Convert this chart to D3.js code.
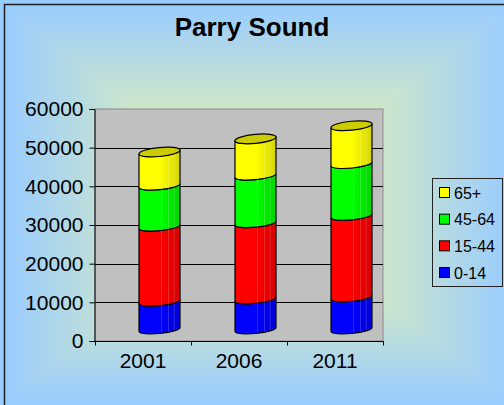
<!DOCTYPE html>
<html>
<head>
<meta charset="utf-8">
<script src="https://cdn.jsdelivr.net/npm/d3@7"></script>
<style>
  body { margin: 0; background: #99ccff; }
  svg { display: block; }
  text { font-family: "Liberation Sans", Arial, sans-serif; fill: #000; }
</style>
</head>
<body>
<div id="chart"></div>
<script>
var years = ["2001", "2006", "2011"];
var groups = ["0-14", "15-44", "45-64", "65+"];
var age0_14  = [7200, 7800, 8300];
var age15_44 = [19400, 19700, 21100];
var age45_64 = [10600, 12300, 13400];
var age65    = [8700, 9500, 9900];
var yTicks = [0, 10000, 20000, 30000, 40000, 50000, 60000];
var colors = ["#0000ff", "#ff0000", "#00ff00", "#ffff00"];

var W = 504, H = 405;
var svg = d3.select("#chart").append("svg")
  .attr("width", W)
  .attr("height", H);
var defs = svg.append("defs");

// background: rectangular "from center" gradient made of 4 triangles
var cx0 = 257, cy0 = 203;
var box = {x0: 4, y0: 4, x1: 512, y1: 403};
var inner = "#ffff99", outer = "#99ccff";
var sides = [
  {id: "bgT", pts: [[box.x0, box.y0], [box.x1, box.y0]], g: [cx0, cy0, cx0, box.y0]},
  {id: "bgB", pts: [[box.x0, box.y1], [box.x1, box.y1]], g: [cx0, cy0, cx0, box.y1]},
  {id: "bgL", pts: [[box.x0, box.y0], [box.x0, box.y1]], g: [cx0, cy0, box.x0, cy0]},
  {id: "bgR", pts: [[box.x1, box.y0], [box.x1, box.y1]], g: [cx0, cy0, box.x1, cy0]}
];
sides.forEach(function(s){
  var lg = defs.append("linearGradient").attr("id", s.id)
    .attr("gradientUnits", "userSpaceOnUse")
    .attr("x1", s.g[0]).attr("y1", s.g[1]).attr("x2", s.g[2]).attr("y2", s.g[3]);
  lg.append("stop").attr("offset", 0).attr("stop-color", inner);
  lg.append("stop").attr("offset", 1).attr("stop-color", outer);
  svg.append("polygon")
    .attr("points", [[cx0, cy0], s.pts[0], s.pts[1]].map(function(p){ return p.join(","); }).join(" "))
    .attr("fill", "url(#" + s.id + ")")
    .attr("stroke", "url(#" + s.id + ")")
    .attr("stroke-width", 0.6);
});
svg.append("rect")
  .attr("x", 4.5).attr("y", 4.5)
  .attr("width", 520).attr("height", 410)
  .attr("fill", "none")
  .attr("stroke", "#222")
  .attr("stroke-width", 1.5);

// title
svg.append("text")
  .attr("x", 252).attr("y", 36)
  .attr("text-anchor", "middle")
  .style("font-size", "26px")
  .style("font-weight", "bold")
  .text("Parry Sound");

// scales
var x = d3.scaleBand().domain(years).range([95, 383]);
var y = d3.scaleLinear().domain([0, 60000]).range([341, 109]);
// cylinders sit one depth step back: shifted up/right
var depthX = 16.5, depthY = 11.5;
var yBar = d3.scaleLinear().domain([0, 60000]).range([341 - depthY, 109 - depthY]);

// plot area (back wall)
svg.append("rect")
  .attr("x", 95).attr("y", 109)
  .attr("width", 288).attr("height", 232)
  .attr("fill", "#c0c0c0")
  .attr("stroke", "#8a8a8a")
  .attr("stroke-width", 1);

svg.append("g").selectAll("line")
  .data(yTicks.filter(function(d){ return d > 0 && d < 60000; }))
  .enter().append("line")
  .attr("x1", 95).attr("x2", 383)
  .attr("y1", function(d){ return Math.round(y(d)) + 0.5; })
  .attr("y2", function(d){ return Math.round(y(d)) + 0.5; })
  .attr("stroke", "#000")
  .attr("stroke-width", 1);

// axes
var yAxis = svg.append("g")
  .attr("transform", "translate(94.5,0)")
  .call(d3.axisLeft(y).tickValues(yTicks).tickFormat(d3.format("d")).tickSize(5).tickPadding(6));
yAxis.select(".domain").attr("stroke", "#000");
yAxis.selectAll("text").style("font-size", "21px").attr("font-family", null);

var bottomY = 341.5;
svg.append("line")
  .attr("x1", 94.5).attr("x2", 383.5)
  .attr("y1", bottomY).attr("y2", bottomY)
  .attr("stroke", "#000");
var catEdges = years.map(function(d){ return x(d); }).concat([x.range()[1]]);
svg.append("g").selectAll("line")
  .data(catEdges)
  .enter().append("line")
  .attr("x1", function(d){ return Math.round(d) + 0.5; })
  .attr("x2", function(d){ return Math.round(d) + 0.5; })
  .attr("y1", bottomY).attr("y2", bottomY + 4)
  .attr("stroke", "#000");
svg.append("g").selectAll("text")
  .data(years)
  .enter().append("text")
  .attr("x", function(d){ return x(d) + x.bandwidth() / 2; })
  .attr("y", 368)
  .attr("text-anchor", "middle")
  .style("font-size", "21px")
  .text(function(d){ return d; });

// cylinders
var table = years.map(function(yr, i){
  return {year: yr, "0-14": age0_14[i], "15-44": age15_44[i], "45-64": age45_64[i], "65+": age65[i]};
});
var series = d3.stack().keys(groups)(table);

colors.forEach(function(c, i){
  var lg = defs.append("linearGradient").attr("id", "cyl" + i)
    .attr("x1", 0).attr("x2", 1).attr("y1", 0).attr("y2", 0);
  lg.append("stop").attr("offset", 0).attr("stop-color", c);
  lg.append("stop").attr("offset", 0.5).attr("stop-color", c);
  lg.append("stop").attr("offset", 1).attr("stop-color", d3.color(c).darker(0.5));
});

var rx = 20.5, ry = 4, tilt = 2;
var rxA = Math.sqrt(rx * rx + tilt * tilt);
var rot = -Math.atan2(tilt, rx) * 180 / Math.PI;

function barX(d){ return x(d.data.year) + x.bandwidth() / 2 + depthX; }

function segPath(cx, yt, yb){
  var x0 = cx - rx, x1 = cx + rx;
  return "M" + x0 + "," + (yt + tilt) +
    "L" + x0 + "," + (yb + tilt) +
    "A" + rxA + "," + ry + " " + rot + " 0 0 " + x1 + "," + (yb - tilt) +
    "L" + x1 + "," + (yt - tilt) +
    "A" + rxA + "," + ry + " " + rot + " 0 1 " + x0 + "," + (yt + tilt) + "Z";
}

var cylG = svg.append("g");
series.forEach(function(s, si){
  cylG.append("g").selectAll("path")
    .data(s)
    .enter().append("path")
    .attr("d", function(d){ return segPath(barX(d), yBar(d[1]), yBar(d[0])); })
    .attr("fill", "url(#cyl" + si + ")")
    .attr("stroke", "#000")
    .attr("stroke-width", 1.2)
    .attr("stroke-linejoin", "round");
});

// faint highlight streaks on the right side of each cylinder
var streaks = [0.55, 0.72, 0.86];
var topSeries = series[series.length - 1];
topSeries.forEach(function(d){
  var cx = barX(d);
  streaks.forEach(function(f){
    var sx = cx - rx + f * 2 * rx;
    var dy = tilt * (1 - 2 * f);
    cylG.append("line")
      .attr("x1", sx).attr("x2", sx)
      .attr("y1", yBar(d[1]) + dy + ry * 0.9)
      .attr("y2", yBar(0) + dy + ry * 0.8)
      .attr("stroke", "#fff")
      .attr("stroke-opacity", 0.22)
      .attr("stroke-width", 0.8);
  });
});

// top caps
cylG.append("g").selectAll("ellipse")
  .data(topSeries)
  .enter().append("ellipse")
  .attr("cx", barX)
  .attr("cy", function(d){ return yBar(d[1]); })
  .attr("rx", rxA).attr("ry", ry + 0.5)
  .attr("transform", function(d){
    return "rotate(" + rot + "," + barX(d) + "," + yBar(d[1]) + ")";
  })
  .attr("fill", "#cccc00")
  .attr("stroke", "#000")
  .attr("stroke-width", 1.2);

// legend
var legend = svg.append("g");
legend.append("rect")
  .attr("x", 432.5).attr("y", 178.5)
  .attr("width", 70).attr("height", 108)
  .attr("fill", "none")
  .attr("stroke", "#222")
  .attr("stroke-width", 1);
var legItems = groups.slice().reverse();
var legY = d3.scalePoint().domain(legItems).range([193, 273]);
var li = legend.selectAll("g.item")
  .data(legItems)
  .enter().append("g")
  .attr("class", "item")
  .attr("transform", function(d){ return "translate(0," + legY(d) + ")"; });
li.append("rect")
  .attr("x", 439.5).attr("y", -5.5)
  .attr("width", 10).attr("height", 10)
  .attr("fill", function(d){ return colors[groups.indexOf(d)]; })
  .attr("stroke", "#000")
  .attr("stroke-width", 1);
li.append("text")
  .attr("x", 454).attr("y", 5.5)
  .style("font-size", "16px")
  .text(function(d){ return d; });
</script>
</body>
</html>
